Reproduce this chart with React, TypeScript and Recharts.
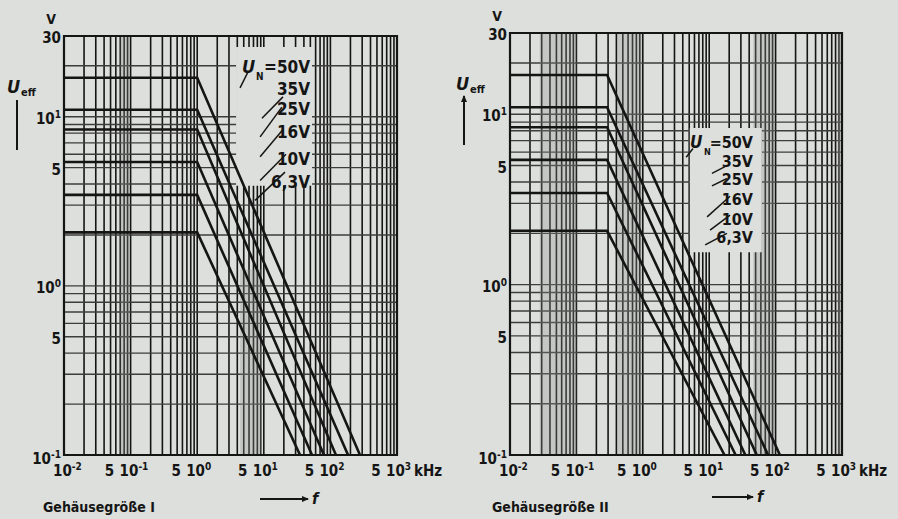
import React from 'react';
import { LineChart, Line, XAxis, YAxis, CartesianGrid, ReferenceArea, ReferenceLine } from 'recharts';

const FONT = "'Liberation Sans Narrow', 'DejaVu Sans Condensed', 'Liberation Sans', Arial, sans-serif";
const BG = '#dcdfdb';
const INK = '#151515';

// ---------- data ----------
const frequencyTicks = [
  0.01, 0.02, 0.03, 0.04, 0.05, 0.06, 0.07, 0.08, 0.09,
  0.1, 0.2, 0.3, 0.4, 0.5, 0.6, 0.7, 0.8, 0.9,
  1, 2, 3, 4, 5, 6, 7, 8, 9,
  10, 20, 30, 40, 50, 60, 70, 80, 90,
  100, 200, 300, 400, 500, 600, 700, 800, 900, 1000,
];
const voltageTicks = [
  0.1, 0.2, 0.3, 0.4, 0.5, 0.6, 0.7, 0.8, 0.9,
  1, 2, 3, 4, 5, 6, 7, 8, 9,
  10, 20, 30,
];
const xTickLabels = [
  { v: 0.01, base: '10', exp: '-2' },
  { v: 0.05, base: '5', exp: '' },
  { v: 0.1, base: '10', exp: '-1' },
  { v: 0.5, base: '5', exp: '' },
  { v: 1, base: '10', exp: '0' },
  { v: 5, base: '5', exp: '' },
  { v: 10, base: '10', exp: '1' },
  { v: 50, base: '5', exp: '' },
  { v: 100, base: '10', exp: '2' },
  { v: 500, base: '5', exp: '' },
  { v: 1000, base: '10', exp: '3' },
];
const yTickLabels = [
  { v: 30, base: '30', exp: '' },
  { v: 10, base: '10', exp: '1' },
  { v: 5, base: '5', exp: '' },
  { v: 1, base: '10', exp: '0' },
  { v: 0.5, base: '5', exp: '' },
  { v: 0.1, base: '10', exp: '-1' },
];

const ratedVoltages = ['50V', '35V', '25V', '16V', '10V', '6,3V'];
const flatLevels = [17, 11, 8.4, 5.4, 3.45, 2.07];
const startFrequency = 0.01;
const endVoltage = 0.1;

const caseIBreak = 1;
const caseIEnd = [278, 184, 121, 80, 53, 35];
const caseIIBreak = 0.29;
const caseIIEnd = [116, 77, 52, 35, 25, 17];

const caseILeaders = [
  [5.8, 18.4, 4.4, 14.8],
  [19.4, 13.1, 9.4, 9.8],
  [18.7, 11.4, 8.8, 7.6],
  [19.4, 8.4, 8.8, 5.8],
  [21.5, 6.0, 8.8, 4.2],
  [20.8, 4.7, 7.4, 3.2],
];
const caseIILeaders = [
  [5.7, 6.3, 4.5, 5.6],
  [18.5, 5.0, 11, 4.5],
  [18.5, 4.2, 11, 3.8],
  [20.6, 3.3, 9.3, 2.5],
  [20.6, 2.56, 10.3, 2.09],
  [18.5, 2.0, 8.7, 1.71],
];
const caseIBox = { x1: 3.83, x2: 53, y1: 3.9, y2: 25.8 };
const caseIIBox = { x1: 5.1, x2: 62, y1: 1.55, y2: 8.3 };

// faint grey scan bands seen behind the grids
const caseIBands = [
  { x1: 4.4, x2: 9.4, y1: 0.1, y2: 1.25 },
  { x1: 0.07, x2: 0.095, y1: 0.1, y2: 30 },
];
const caseIIBands = [
  { x1: 0.028, x2: 0.1, y1: 0.1, y2: 30 },
  { x1: 0.41, x2: 0.97, y1: 0.1, y2: 30 },
  { x1: 46, x2: 98, y1: 0.1, y2: 30 },
  { x1: 850, x2: 1000, y1: 0.1, y2: 30 },
];

// ---------- helpers ----------
const findLabel = (list: { v: number; base: string; exp: string }[], value: number) =>
  list.find((l) => Math.abs(Math.log10(l.v) - Math.log10(value)) < 1e-6);

const XTick = (props: any) => {
  const { x, y, payload } = props;
  const lab = findLabel(xTickLabels, payload.value);
  if (!lab) return <g />;
  const isPow = !!lab.exp;
  return (
    <g>
      <text
        x={isPow ? x - 11 : x - 1}
        y={y + 19}
        textAnchor={isPow ? 'start' : 'middle'}
        fontFamily={FONT}
        fontWeight={700}
        fontSize={15}
        fill={INK}
      >
        {lab.base}
        {isPow ? <tspan dy={-6} fontSize={10}>{lab.exp}</tspan> : null}
      </text>
      {payload.value === 1000 ? (
        <text x={x + 17} y={y + 19} textAnchor="start" fontFamily={FONT} fontWeight={700} fontSize={15} fill={INK}>kHz</text>
      ) : null}
    </g>
  );
};

const YTick = (props: any) => {
  const { x, y, payload } = props;
  const lab = findLabel(yTickLabels, payload.value);
  if (!lab) return <g />;
  const dy = payload.value === 0.1 ? 9 : 7;
  return (
    <g>
      <text x={x - 1} y={y + dy} textAnchor="end" fontFamily={FONT} fontWeight={700} fontSize={15} fill={INK}>
        {lab.base}
        {lab.exp ? <tspan dy={-6} fontSize={10}>{lab.exp}</tspan> : null}
      </text>
      {payload.value === 30 ? (
        <text x={x - 11} y={y - 12} textAnchor="middle" fontFamily={FONT} fontWeight={700} fontSize={14} fill={INK}>V</text>
      ) : null}
    </g>
  );
};

type Box = { x1: number; x2: number; y1: number; y2: number };
type PanelProps = {
  left: number;
  margin: { top: number; right: number; bottom: number; left: number };
  yWidth: number;
  breakF: number;
  endF: number[];
  leaders: number[][];
  box: Box;
  bands: Box[];
  labelRight: number;
  labelBase: number[];
  labelSize: number;
  unLeft: number;
  title: string;
  arrowUp: boolean;
  fArrow: [number, number, number];
};

function Panel(p: PanelProps) {
  const series = ratedVoltages.map((name, i) => ({
    name,
    points: [
      { f: startFrequency, u: flatLevels[i] },
      { f: p.breakF, u: flatLevels[i] },
      { f: p.endF[i], u: endVoltage },
    ],
  }));
  return (
    <div style={{ position: 'absolute', left: p.left, top: 0, width: 449, height: 519 }}>
      <LineChart width={449} height={519} margin={p.margin}>
        {p.bands.map((b, i) => (
          <ReferenceArea key={'b' + i} x1={b.x1} x2={b.x2} y1={b.y1} y2={b.y2} fill="#8e918e" fillOpacity={0.3} stroke="none" />
        ))}
        <CartesianGrid horizontal={false} stroke={INK} strokeWidth={1.6} />
        <CartesianGrid vertical={false} stroke="#3c3c3c" strokeWidth={1.4} />
        <XAxis
          type="number"
          dataKey="f"
          scale="log"
          domain={[0.01, 1000]}
          ticks={frequencyTicks}
          interval={0}
          allowDataOverflow
          tick={XTick}
          tickLine={false}
          axisLine={false}
          tickSize={0}
          height={30}
        />
        <YAxis
          type="number"
          dataKey="u"
          scale="log"
          domain={[0.1, 30]}
          ticks={voltageTicks}
          interval={0}
          allowDataOverflow
          tick={YTick}
          tickLine={false}
          axisLine={false}
          tickSize={0}
          width={p.yWidth}
        />
        <ReferenceArea x1={p.box.x1} x2={p.box.x2} y1={p.box.y1} y2={p.box.y2} fill={BG} fillOpacity={1} stroke="none" />
        {series.map((s) => (
          <Line
            key={s.name}
            data={s.points}
            dataKey="u"
            name={s.name}
            type="linear"
            stroke={INK}
            strokeWidth={2.6}
            dot={false}
            activeDot={false}
            isAnimationActive={false}
          />
        ))}
        {p.leaders.map((l, i) => (
          <ReferenceLine
            key={i}
            segment={[{ x: l[0], y: l[1] }, { x: l[2], y: l[3] }]}
            stroke={INK}
            strokeWidth={1.5}
          />
        ))}
        <ReferenceArea x1={0.01} x2={1000} y1={0.1} y2={30} fill="none" stroke={INK} strokeWidth={2.2} />
      </LineChart>
      <svg width={449} height={519} style={{ position: 'absolute', left: 0, top: 0, pointerEvents: 'none' }}>
        <defs>
          <marker id={'ah' + p.left} markerWidth="8" markerHeight="8" refX="6" refY="4" orient="auto" markerUnits="userSpaceOnUse">
            <path d="M0,1 L7,4 L0,7 Z" fill={INK} />
          </marker>
        </defs>
        {/* legend labels */}
        <text x={p.unLeft} y={p.labelBase[0]} fontFamily={FONT} fontWeight={700} fontSize={p.labelSize + 1} fontStyle="italic" fill={INK}>U</text>
        <text x={p.unLeft + 14} y={p.labelBase[0] + 7} fontFamily={FONT} fontWeight={700} fontSize={p.labelSize - 7} fill={INK}>N</text>
        {ratedVoltages.map((v, i) => (
          <text key={v} x={p.labelRight} y={p.labelBase[i]} textAnchor="end" fontFamily={FONT} fontWeight={700} fontSize={p.labelSize} fill={INK}>
            {i === 0 ? '=' + v : v}
          </text>
        ))}
        {/* y axis title */}
        <text x={7} y={p.arrowUp ? 90 : 93} fontFamily={FONT} fontWeight={700} fontStyle="italic" fontSize={18} fill={INK}>U</text>
        <text x={21} y={p.arrowUp ? 93 : 96} fontFamily={FONT} fontWeight={700} fontSize={11} fill={INK}>eff</text>
        {p.arrowUp ? (
          <line x1={15} y1={145} x2={15} y2={96} stroke={INK} strokeWidth={2} markerEnd={'url(#ah' + p.left + ')'} />
        ) : (
          <line x1={17} y1={150} x2={17} y2={100} stroke={INK} strokeWidth={2} />
        )}
        {/* x axis title */}
        <line x1={p.fArrow[0]} y1={p.fArrow[2]} x2={p.fArrow[1]} y2={p.fArrow[2]} stroke={INK} strokeWidth={2} markerEnd={'url(#ah' + p.left + ')'} />
        <text x={p.fArrow[1] + 4} y={p.fArrow[2] + 5} fontFamily={FONT} fontWeight={700} fontStyle="italic" fontSize={16} fill={INK}>f</text>
        <text x={43} y={512} fontFamily={FONT} fontWeight={700} fontSize={14} fill={INK}>{p.title}</text>
      </svg>
    </div>
  );
}

export default function App() {
  return (
    <div style={{ position: 'fixed', left: 0, top: 0, width: 898, height: 519, background: BG, overflow: 'hidden' }}>
      <Panel
        left={0}
        margin={{ top: 36, right: 52, bottom: 34, left: 0 }}
        yWidth={64}
        breakF={caseIBreak}
        endF={caseIEnd}
        leaders={caseILeaders}
        box={caseIBox}
        bands={caseIBands}
        labelRight={310}
        labelBase={[73, 95, 115, 138, 165, 188]}
        labelSize={17}
        unLeft={242}
        title="Gehäusegröße I"
        arrowUp={false}
        fArrow={[260, 308, 499]}
      />
      <Panel
        left={449}
        margin={{ top: 33, right: 56, bottom: 34, left: 0 }}
        yWidth={61}
        breakF={caseIIBreak}
        endF={caseIIEnd}
        leaders={caseIILeaders}
        box={caseIIBox}
        bands={caseIIBands}
        labelRight={304}
        labelBase={[148, 167, 185, 205, 225, 243]}
        labelSize={16}
        unLeft={241}
        title="Gehäusegröße II"
        arrowUp={true}
        fArrow={[263, 304, 497]}
      />
    </div>
  );
}
